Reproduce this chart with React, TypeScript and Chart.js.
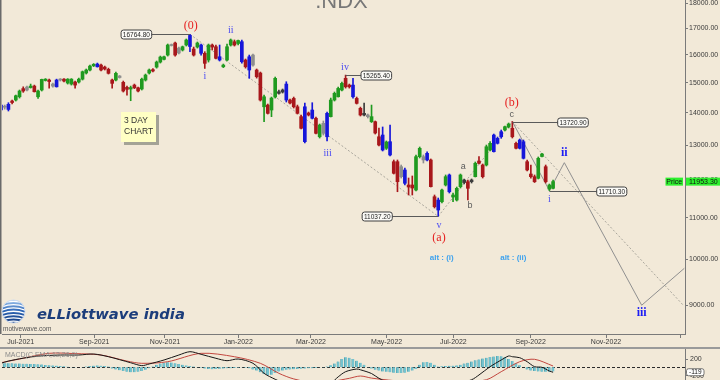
import React, { useEffect, useRef } from 'react';
import { Chart, registerables } from 'chart.js';

Chart.register(...registerables);

// ---------- text content ----------
const TITLE = '.NDX';
const NOTE_LINES = ['3 DAY', 'CHART'];
const LOGO_TEXT = 'eLLiottwave india';
const LOGO_SUB = 'motivewave.com';
const MACD_TITLE = 'MACD(C,EMA,12,26,9)';
const PRICE_WORD = 'Price';

// ---------- 3-day candles (bar index 0..149) ----------
const opens = [
  14250, 14190, 14274, 14383, 14416, 14524, 14798, 14751, 14833, 14885,
  14524, 14751, 15076, 15093, 14885, 15093, 15093, 15124, 14989, 14954,
  15024, 15024, 15124, 15338, 15444, 15595, 15559, 15620, 15548, 15469,
  15093, 15093, 15180, 15013, 14841, 14785, 14919, 14826, 14785, 15093,
  15338, 15457, 15548, 15729, 15825, 15984, 16337, 16432, 16059, 16170,
  16356, 16300, 16207, 16280, 16356, 16048, 15802, 16356, 16292, 15921,
  15559, 15802, 16356, 16481, 16413, 16481, 15802, 15921, 15620, 15444,
  15338, 14194, 14250, 14089, 14515, 14639, 14683, 14954, 14416, 14470,
  14194, 13876, 14194, 13992, 14089, 13824, 13250, 13355, 13982, 13876,
  14416, 14524, 14751, 15152, 14919, 14919, 14470, 14144, 13929, 13929,
  13716, 13716, 13250, 13303, 12904, 13101, 12513, 12513, 12090, 12277,
  11861, 11861, 11725, 12658, 12562, 12756, 12562, 11546, 11459, 11414,
  11861, 12137, 11538, 11459, 11815, 11929, 11951, 11951, 12090, 12533,
  12418, 12418, 12853, 12803, 13052, 13250, 13457, 13551, 13511, 13052,
  12904, 13101, 12513, 12164, 12090, 12045, 12663, 12370, 11752, 11771,
];
const highs = [
  14317, 14250, 14327, 14416, 14581, 14751, 14860, 14885, 14954, 14919,
  14751, 15124, 15142, 15124, 14989, 15124, 15142, 15142, 15142, 15142,
  15058, 15160, 15409, 15480, 15620, 15675, 15693, 15657, 15584, 15511,
  15124, 15373, 15251, 15058, 14885, 14885, 14954, 14851, 15160, 15302,
  15480, 15493, 15766, 15947, 15947, 16394, 16394, 16470, 16280, 16318,
  16584, 16764.8, 16280, 16470, 16394, 16107, 16394, 16394, 16356, 16356,
  15657, 16394, 16584, 16546, 16546, 16546, 15839, 15984, 16022, 15480,
  15373, 14581, 14284, 14515, 15197, 14751, 14785, 15034, 14449, 14515,
  14250, 13929, 14317, 14024, 14327, 13865, 13643, 13738, 14024, 14481,
  14683, 14851, 15024, 15265.4, 14954, 15152, 14515, 14184, 14317, 13960,
  14250, 13738, 13520, 13551, 13122, 13612, 12562, 12562, 12418, 12333,
  12053, 12109, 12707, 12942, 12707, 12803, 12591, 11592, 11512, 11752,
  12137, 12164, 11645, 11806, 12164, 12026, 11998, 12026, 12504, 12658,
  12447, 13001, 13101, 13333, 13242, 13457, 13581, 13675, 13720.9, 13092,
  13182, 13152, 12562, 12418, 12137, 12649, 12756, 12418, 11888, 11998,
];
const lows = [
  14057, 14118, 14057, 14284, 14383, 14481, 14673, 14717, 14816, 14683,
  14470, 14717, 15058, 14816, 14851, 14851, 15058, 15024, 14954, 14919,
  14816, 14989, 15093, 15302, 15409, 15566, 15548, 15409, 15444, 15302,
  14816, 15058, 15160, 14683, 14581, 14393, 14798, 14683, 14751, 15058,
  15302, 15373, 15511, 15693, 15802, 15947, 16318, 15947, 16022, 16133,
  16318, 16107, 15947, 16242, 15984, 15500, 15729, 16170, 15839, 15766,
  15530, 15766, 16318, 16318, 16356, 15693, 15511, 15152, 15584, 15160,
  14383, 13716, 13960, 13876, 14481, 14615, 14649, 14350, 14284, 14154,
  13960, 13488, 13062, 13897, 13802, 13333, 13212, 13303, 13122, 13865,
  14383, 14515, 14717, 14816, 14816, 14481, 14284, 13897, 13897, 13833,
  13691, 13333, 12971, 12824, 12868, 12678, 12164, 11679, 12053, 11861,
  11592, 11592, 11698, 12620, 12475, 12533, 11806, 11251, 11037.2, 11380,
  11834, 11645, 11414, 11433, 11779, 11888, 11459, 11915, 12081, 12447,
  12053, 12390, 12824, 12794, 13031, 13203, 13426, 13520, 13212, 12883,
  12883, 12591, 12249, 12045, 11929, 12026, 12649, 11915, 11710.3, 11752,
];
const closes = [
  14089, 14180, 14108, 14333, 14558, 14717, 14717, 14851, 14885, 14693,
  14717, 15115, 15124, 15041, 14954, 14860, 15124, 15058, 15124, 15124,
  14919, 15124, 15384, 15444, 15584, 15646, 15657, 15444, 15480, 15327,
  14978, 15327, 15233, 14717, 14775, 14833, 14826, 14717, 15124, 15267,
  15444, 15409, 15729, 15910, 15921, 16356, 16375, 15984, 16242, 16292,
  16546, 16720, 15984, 16432, 16048, 15682, 16356, 16280, 15864, 15802,
  15620, 16292, 16546, 16356, 16527, 15740, 15559, 15444, 15984, 15208,
  14416, 14524, 13982, 14481, 15152, 14693, 14751, 14416, 14317, 14194,
  13982, 13511, 13101, 13929, 13824, 13355, 13612, 13665, 13250, 14416,
  14639, 14805, 14978, 14860, 14860, 14524, 14306, 13929, 13982, 13876,
  13876, 13364, 13001, 12853, 13092, 12707, 12184, 11951, 12370, 11907,
  11806, 11779, 12658, 12903, 12658, 12562, 11815, 11284, 11199, 11725,
  12090, 11679, 11592, 11771, 12137, 11998, 11771, 11998, 12467, 12467,
  12090, 12950, 13052, 13303, 13203, 13405, 13560, 13643, 13250, 12904,
  13152, 12611, 12277, 12090, 11951, 12611, 12736, 11951, 11861, 11953.3,
];
// bar class: u = up, d = down, b = wide-range (blue), n = neutral, k = small doji
const tones = (
  'bnbduudnud' + 'uuudnbnduu' + 'duuuuubddd' + 'dunddudduu' + 'uduuuundnu' +
  'ubdubduddb' + 'uuudubdbnd' + 'duduukkbdd' + 'ddbdbdunbu' + 'uuuddbddkn' +
  'uddbubddnb' + 'dduunbddbu' + 'ubuuukdkud' + 'duubbbuudd' + 'bbddduuduu'
).split('');
const lastPrice = 11953.3;

// ---------- axes ----------
const X_MIN = 0.27;
const X_MAX = 184.6;
const Y_MIN = 8425;
const Y_MAX = 18137;
const monthTickPos = [5.32, 25.18, 44.26, 64.04, 83.66, 104.09, 122.07, 142.96, 163.28, 183.44];
const monthTickLabels = ['Jul-2021', 'Sep-2021', 'Nov-2021', 'Jan-2022', 'Mar-2022', 'May-2022', 'Jul-2022', 'Sep-2022', 'Nov-2022', ''];
const priceTicks = [9000, 10000, 11000, 12000, 13000, 14000, 15000, 16000, 17000, 18000];

// ---------- wave annotations ----------
const waveText = ['(0)', 'ii', 'i', 'iii', 'iv', 'v', '(a)', 'a', 'b', 'c', '(b)', 'ii', 'i', 'iii'];
const waveBar = [51.2, 62.0, 55.06, 88.17, 92.84, 118.21, 118.21, 124.77, 126.58, 137.83, 137.83, 152.03, 147.98, 172.91];
const wavePrice = [17086, 16903, 15233, 12756, 15526, 10820, 10509, 12371, 11303, 13929, 14308, 12756, 11477, 8835];
const waveDegree = ['P', 'm', 'm', 'm', 'm', 'm', 'P', 's', 's', 's', 'P', 'M', 'm', 'M'];
const altText = ['alt : (i)', 'alt : (ii)'];
const altBar = [118.94, 138.26];
const altPrice = [10037, 10037];
const markValue = [16764.8, 15265.4, 11037.2, 13720.9, 11710.3];
const markBar = [51, 93, 118, 138, 148];
const markEdgeBar = [40.67, 97.16, 105.6, 150.24, 160.77];
const projBars = [138, 148, 152.03, 172.91, 184.41];
const projPrices = [13720.9, 11710.3, 12485, 9000, 9796];
const trendFromBar = [51, 118, 138];
const trendFromPrice = [16764.8, 11037.2, 13720.9];
const trendToBar = [118, 138, 184.14];
const trendToPrice = [11037.2, 13720.9, 9000];

// ---------- MACD ----------
const histVals = [
  95, 100, 100, 95, 90, 90, 85, 85, 80, 80, 75, 70,
  55, 50, 45, 40, 30, 25, 15, 10, 5, 0, 10, 20,
  30, 40, 45, 40, 30, 20, -30, -50, -70, -90, -110, -120,
  -120, -110, -90, -60, -20, 20, 60, 90, 110, 120, 115, 100,
  80, 60, 45, 30, 20, 10, -10, -30, -40, -45, -40, -35,
  -30, -25, -20, -15, -10, -5, -10, -25, -50, -80, -120, -160,
  -190, -180, -140, -100, -80, -60, -50, -45, -40, -35, -30, -25,
  -20, -15, -5, 5, 20, 50, 90, 140, 200, 240, 230, 200,
  160, 110, 60, 10, -30, -60, -80, -100, -110, -120, -130, -140,
  -140, -130, -110, -80, -40, 60, 120, 130, 110, 60, 20, 25,
  30, 35, 40, 45, 60, 90, 110, 140, 170, 190, 210, 230,
  250, 260, 270, 265, 240, 200, 150, 100, 50, 0, -50, -80,
  -90, -100, -105, -110, -110, -100,
];
const macdBars = [0, 2, 6, 10, 16, 21, 25, 29, 35, 38, 40, 44, 48, 51, 54, 58, 61, 64, 68, 71, 74, 77, 81, 85, 89, 91, 93, 96, 97, 100, 102, 105, 110, 116, 122, 127, 129, 132, 135, 137, 138, 140, 142, 144, 146, 148, 149];
const macdVals = [97, 150, 220, 270, 296, 296, 320, 255, 110, 40, 80, 176, 296, 376, 313, 217, 159, 200, 97, -145, -289, -400, -470, -480, -380, -230, -106, -41, -60, -150, -265, -380, -450, -480, -420, -300, -185, 15, 176, 272, 255, 231, 135, 15, 0, -90, -119];
const sigBars = [0, 5, 13, 20, 27, 34, 38, 45, 54, 63, 70, 75, 79, 85, 90, 94, 97, 100, 106, 115, 125, 131, 135, 140, 144, 149];
const sigVals = [111, 200, 337, 330, 296, 150, 96, 135, 337, 255, 96, -145, -280, -380, -330, -265, -210, -260, -320, -380, -350, -300, -106, 135, 193, 31];
const macdLast = -119;
const MACD_MIN = -306;
const MACD_MAX = 441;
const macdTicks = [200, -200];

// ---------- styles ----------
const BG = '#f2e9d8';
const FONT = 'Liberation Sans';
const SERIF = 'Liberation Serif';
const AXIS = '#7a7a7a';
const TXT = '#3a3a3a';
const toneColor: Record<string, string> = { u: '#1f9a1f', d: '#a8171b', b: '#1616da', n: '#8e8e8e', k: '#3c3c3c' };
const waveStyle: Record<string, { font: string; color: string }> = {
  P: { font: `12px ${SERIF}`, color: '#e61e1e' },
  m: { font: `10px ${SERIF}`, color: '#4a4af2' },
  M: { font: `bold 12px ${SERIF}`, color: '#1c1cf5' },
  s: { font: `9px ${FONT}`, color: '#5a5a5a' },
};

function rrect(ctx: CanvasRenderingContext2D, x: number, y: number, w: number, h: number, r: number) {
  ctx.beginPath();
  ctx.moveTo(x + r, y);
  ctx.lineTo(x + w - r, y);
  ctx.quadraticCurveTo(x + w, y, x + w, y + r);
  ctx.lineTo(x + w, y + h - r);
  ctx.quadraticCurveTo(x + w, y + h, x + w - r, y + h);
  ctx.lineTo(x + r, y + h);
  ctx.quadraticCurveTo(x, y + h, x, y + h - r);
  ctx.lineTo(x, y + r);
  ctx.quadraticCurveTo(x, y, x + r, y);
  ctx.closePath();
}

const mainOverlay = {
  id: 'mainOverlay',
  afterDatasetsDraw(chart: any) {
    const { ctx, chartArea: ca } = chart;
    const xs = chart.scales.x;
    const ys = chart.scales.y;
    const X = (v: number) => xs.getPixelForValue(v);
    const Y = (v: number) => ys.getPixelForValue(v);
    ctx.save();

    // left frame line
    ctx.strokeStyle = '#6a6a6a';
    ctx.lineWidth = 1.5;
    ctx.beginPath();
    ctx.moveTo(0.75, 0);
    ctx.lineTo(0.75, ca.bottom);
    ctx.stroke();

    // title
    ctx.fillStyle = '#777777';
    ctx.font = `22px ${FONT}`;
    ctx.textAlign = 'center';
    ctx.textBaseline = 'alphabetic';
    ctx.fillText(TITLE, 341.5, 8.3);

    // price marks with connectors
    ctx.font = `6.5px ${FONT}`;
    markValue.forEach((v, i) => {
      const ax = X(markBar[i]);
      const py = Math.round(Y(v)) + 0.5;
      const ex = X(markEdgeBar[i]);
      const label = v.toFixed(2);
      const w = ctx.measureText(label).width + 3.5;
      const h = 9;
      const left = ex < ax ? ex - w : ex;
      ctx.strokeStyle = '#5a5a5a';
      ctx.lineWidth = 1;
      ctx.beginPath();
      ctx.moveTo(ax, py);
      ctx.lineTo(ex, py);
      ctx.stroke();
      rrect(ctx, left, py - h / 2, w, h, 2.5);
      ctx.fillStyle = '#fbfaf6';
      ctx.fill();
      ctx.strokeStyle = '#3e3e3e';
      ctx.stroke();
      ctx.fillStyle = '#1e1e1e';
      ctx.textAlign = 'center';
      ctx.textBaseline = 'middle';
      ctx.fillText(label, left + w / 2, py + 0.5);
    });

    // wave labels
    ctx.textAlign = 'center';
    ctx.textBaseline = 'middle';
    waveText.forEach((t, i) => {
      const st = waveStyle[waveDegree[i]];
      ctx.font = st.font;
      ctx.fillStyle = st.color;
      ctx.fillText(t, X(waveBar[i]), Y(wavePrice[i]));
    });
    ctx.font = `bold 8px ${FONT}`;
    ctx.fillStyle = '#3ea2ee';
    altText.forEach((t, i) => ctx.fillText(t, X(altBar[i]), Y(altPrice[i])));

    // 3 DAY CHART note
    ctx.fillStyle = '#a4a396';
    ctx.fillRect(124, 115, 35, 30);
    ctx.fillStyle = '#ffffc4';
    ctx.fillRect(121, 112, 35, 30);
    ctx.fillStyle = '#333333';
    ctx.font = `8.5px ${FONT}`;
    ctx.textAlign = 'left';
    ctx.textBaseline = 'alphabetic';
    ctx.fillText(NOTE_LINES[0], 124, 123);
    ctx.fillText(NOTE_LINES[1], 124, 133.5);

    // logo globe
    const gx = 13.5, gy = 311.5, gr = 11.5;
    ctx.save();
    ctx.beginPath();
    ctx.arc(gx, gy, gr, 0, Math.PI * 2);
    const grad = ctx.createLinearGradient(0, gy - gr, 0, gy + gr);
    grad.addColorStop(0, '#a8cbf0');
    grad.addColorStop(0.45, '#2f68b8');
    grad.addColorStop(1, '#153a7c');
    ctx.fillStyle = grad;
    ctx.fill();
    ctx.clip();
    ctx.strokeStyle = '#ffffff';
    ctx.lineWidth = 1.3;
    for (let j = -3; j <= 3; j++) {
      const yy = gy + j * 3.3;
      ctx.beginPath();
      ctx.moveTo(gx - gr, yy + 2);
      ctx.quadraticCurveTo(gx, yy - 2.5, gx + gr, yy + 2);
      ctx.stroke();
    }
    ctx.restore();
    ctx.strokeStyle = '#cfdcee';
    ctx.lineWidth = 1;
    ctx.beginPath();
    ctx.arc(gx, gy, gr, 0, Math.PI * 2);
    ctx.stroke();

    // logo text
    ctx.font = `italic bold 14px DejaVu Sans`;
    const mw = ctx.measureText(LOGO_TEXT).width || 140;
    const fs = (14 * 148) / mw;
    ctx.font = `italic bold ${fs.toFixed(2)}px DejaVu Sans`;
    ctx.fillStyle = '#1c3d7b';
    ctx.textAlign = 'left';
    ctx.fillText(LOGO_TEXT, 37, 318.5);
    ctx.font = `6.5px ${FONT}`;
    ctx.fillStyle = '#555555';
    ctx.fillText(LOGO_SUB, 3, 331);

    ctx.restore();
  },
  afterDraw(chart: any) {
    const { ctx, chartArea: ca } = chart;
    const ys = chart.scales.y;
    const py = ys.getPixelForValue(lastPrice);
    ctx.save();
    ctx.font = `7px ${FONT}`;
    ctx.textBaseline = 'middle';
    ctx.textAlign = 'center';
    ctx.fillStyle = '#2ef02e';
    ctx.fillRect(665.5, py - 4, 17.5, 8);
    ctx.fillStyle = '#111111';
    ctx.fillText(PRICE_WORD, 674.25, py + 0.5);
    ctx.fillStyle = '#2ef02e';
    ctx.fillRect(ca.right + 1, py - 4, 720 - ca.right - 1, 8);
    ctx.fillStyle = '#111111';
    ctx.textAlign = 'left';
    ctx.fillText(lastPrice.toFixed(2), ca.right + 4, py + 0.5);
    ctx.restore();
  },
};

const macdOverlay = {
  id: 'macdOverlay',
  beforeDatasetsDraw(chart: any) {
    const { ctx, chartArea: ca } = chart;
    const y0 = Math.round(chart.scales.y.getPixelForValue(0)) + 0.5;
    ctx.save();
    ctx.strokeStyle = '#2a2a2a';
    ctx.lineWidth = 1;
    ctx.setLineDash([3, 2]);
    ctx.beginPath();
    ctx.moveTo(ca.left, y0);
    ctx.lineTo(ca.right, y0);
    ctx.stroke();
    ctx.restore();
  },
  afterDraw(chart: any) {
    const { ctx, chartArea: ca } = chart;
    const py = chart.scales.y.getPixelForValue(macdLast);
    ctx.save();
    ctx.font = `7px ${FONT}`;
    ctx.fillStyle = '#8a8a8a';
    ctx.textAlign = 'left';
    ctx.textBaseline = 'middle';
    ctx.fillText(MACD_TITLE, 5, 6.5);
    rrect(ctx, ca.right + 1.5, py - 3.5, 17.5, 7, 2);
    ctx.fillStyle = '#ffffff';
    ctx.fill();
    ctx.strokeStyle = '#555555';
    ctx.lineWidth = 0.8;
    ctx.stroke();
    ctx.fillStyle = '#111111';
    ctx.font = `6.5px ${FONT}`;
    ctx.textAlign = 'center';
    ctx.fillText(String(macdLast), ca.right + 10.25, py + 0.3);
    ctx.restore();
  },
};

export default function App() {
  const mainRef = useRef<HTMLCanvasElement>(null);
  const macdRef = useRef<HTMLCanvasElement>(null);

  useEffect(() => {
    document.body.style.margin = '0';
    const idx = opens.map((_, i) => i);
    const colors = tones.map((t) => toneColor[t] || toneColor.k);
    const wickData = idx.map((i) => ({ x: i, y: [lows[i], highs[i]] }));
    const bodyData = idx.map((i) => ({ x: i, y: [opens[i], closes[i]] }));

    const trendSets = trendFromBar.map((b, i) => ({
      type: 'line' as const,
      data: [
        { x: b, y: trendFromPrice[i] },
        { x: trendToBar[i], y: trendToPrice[i] },
      ],
      borderColor: '#a8a59b',
      borderWidth: 1,
      borderDash: [2, 2],
      pointRadius: 0,
      tension: 0,
      order: 5,
    }));

    const main = new Chart(mainRef.current as HTMLCanvasElement, {
      type: 'bar',
      data: {
        datasets: [
          {
            type: 'bar',
            data: bodyData as any,
            backgroundColor: colors,
            barThickness: 3,
            minBarLength: 1,
            grouped: false,
            borderWidth: 0,
            order: 0,
          } as any,
          {
            type: 'bar',
            data: wickData as any,
            backgroundColor: colors,
            barThickness: 1,
            grouped: false,
            borderWidth: 0,
            order: 1,
          } as any,
          {
            type: 'line',
            data: projBars.map((b, i) => ({ x: b, y: projPrices[i] })),
            borderColor: '#8f8f8f',
            borderWidth: 1,
            pointRadius: 0,
            tension: 0,
            order: 4,
          } as any,
          ...(trendSets as any[]),
        ],
      },
      options: {
        animation: false,
        responsive: false,
        maintainAspectRatio: false,
        devicePixelRatio: 1,
        events: [],
        layout: { padding: { left: 2, right: 0, top: 0, bottom: 0 } },
        plugins: { legend: { display: false }, tooltip: { enabled: false } },
        scales: {
          x: {
            type: 'linear',
            min: X_MIN,
            max: X_MAX,
            offset: false,
            afterBuildTicks: (s: any) => {
              s.ticks = monthTickPos.map((v) => ({ value: v }));
            },
            afterFit: (s: any) => {
              s.height = 13;
              s.paddingLeft = 0;
              s.paddingRight = 0;
            },
            grid: { display: true, drawOnChartArea: false, drawTicks: true, tickLength: 4, color: AXIS, offset: false },
            border: { display: true, color: AXIS },
            ticks: {
              autoSkip: false,
              maxRotation: 0,
              minRotation: 0,
              padding: 0,
              color: TXT,
              font: { family: FONT, size: 7 },
              callback: (_v: any, i: number) => monthTickLabels[i] ?? '',
            },
          },
          y: {
            type: 'logarithmic',
            position: 'right',
            min: Y_MIN,
            max: Y_MAX,
            afterBuildTicks: (s: any) => {
              s.ticks = priceTicks.map((v) => ({ value: v }));
            },
            afterFit: (s: any) => {
              s.width = 35;
              s.paddingTop = 0;
              s.paddingBottom = 0;
            },
            grid: { display: true, drawOnChartArea: false, drawTicks: true, tickLength: 3, color: AXIS },
            border: { display: true, color: AXIS },
            ticks: {
              padding: 1,
              color: TXT,
              font: { family: FONT, size: 7 },
              callback: (v: any) => Number(v).toFixed(2),
            },
          },
        },
      } as any,
      plugins: [mainOverlay as any],
    });

    const macd = new Chart(macdRef.current as HTMLCanvasElement, {
      type: 'bar',
      data: {
        datasets: [
          {
            type: 'line',
            data: macdBars.map((b, i) => ({ x: b, y: macdVals[i] })),
            borderColor: '#161616',
            borderWidth: 1,
            pointRadius: 0,
            tension: 0.3,
            order: 0,
          } as any,
          {
            type: 'line',
            data: sigBars.map((b, i) => ({ x: b, y: sigVals[i] })),
            borderColor: '#c2463e',
            borderWidth: 1,
            pointRadius: 0,
            tension: 0.3,
            order: 1,
          } as any,
          {
            type: 'bar',
            data: histVals.map((v, i) => ({ x: i, y: v })),
            backgroundColor: '#74c3cf',
            borderColor: '#3f8f9c',
            borderWidth: { left: 0.6, right: 0, top: 0, bottom: 0 },
            barThickness: 2.6,
            grouped: false,
            order: 2,
          } as any,
        ],
      },
      options: {
        animation: false,
        responsive: false,
        maintainAspectRatio: false,
        devicePixelRatio: 1,
        events: [],
        layout: { padding: { left: 2, right: 0, top: 0, bottom: 0 } },
        plugins: { legend: { display: false }, tooltip: { enabled: false } },
        scales: {
          x: { type: 'linear', min: X_MIN, max: X_MAX, offset: false, display: false },
          y: {
            type: 'linear',
            position: 'right',
            min: MACD_MIN,
            max: MACD_MAX,
            afterBuildTicks: (s: any) => {
              s.ticks = macdTicks.map((v) => ({ value: v }));
            },
            afterFit: (s: any) => {
              s.width = 35;
              s.paddingTop = 0;
              s.paddingBottom = 0;
            },
            grid: { display: true, drawOnChartArea: false, drawTicks: true, tickLength: 3, color: AXIS },
            border: { display: true, color: AXIS },
            ticks: {
              padding: 2,
              color: TXT,
              font: { family: FONT, size: 7 },
              callback: (v: any) => String(v),
            },
          },
        },
      } as any,
      plugins: [macdOverlay as any],
    });

    return () => {
      main.destroy();
      macd.destroy();
    };
  }, []);

  return (
    <div style={{ position: 'fixed', left: 0, top: 0, width: 720, height: 380, background: BG, overflow: 'hidden' }}>
      <canvas ref={mainRef} width={720} height={347} style={{ position: 'absolute', left: 0, top: 0, width: 720, height: 347 }} />
      <div style={{ position: 'absolute', left: 0, top: 347, width: 720, height: 2, background: '#9a9a9a' }} />
      <canvas ref={macdRef} width={720} height={31} style={{ position: 'absolute', left: 0, top: 349, width: 720, height: 31 }} />
    </div>
  );
}
